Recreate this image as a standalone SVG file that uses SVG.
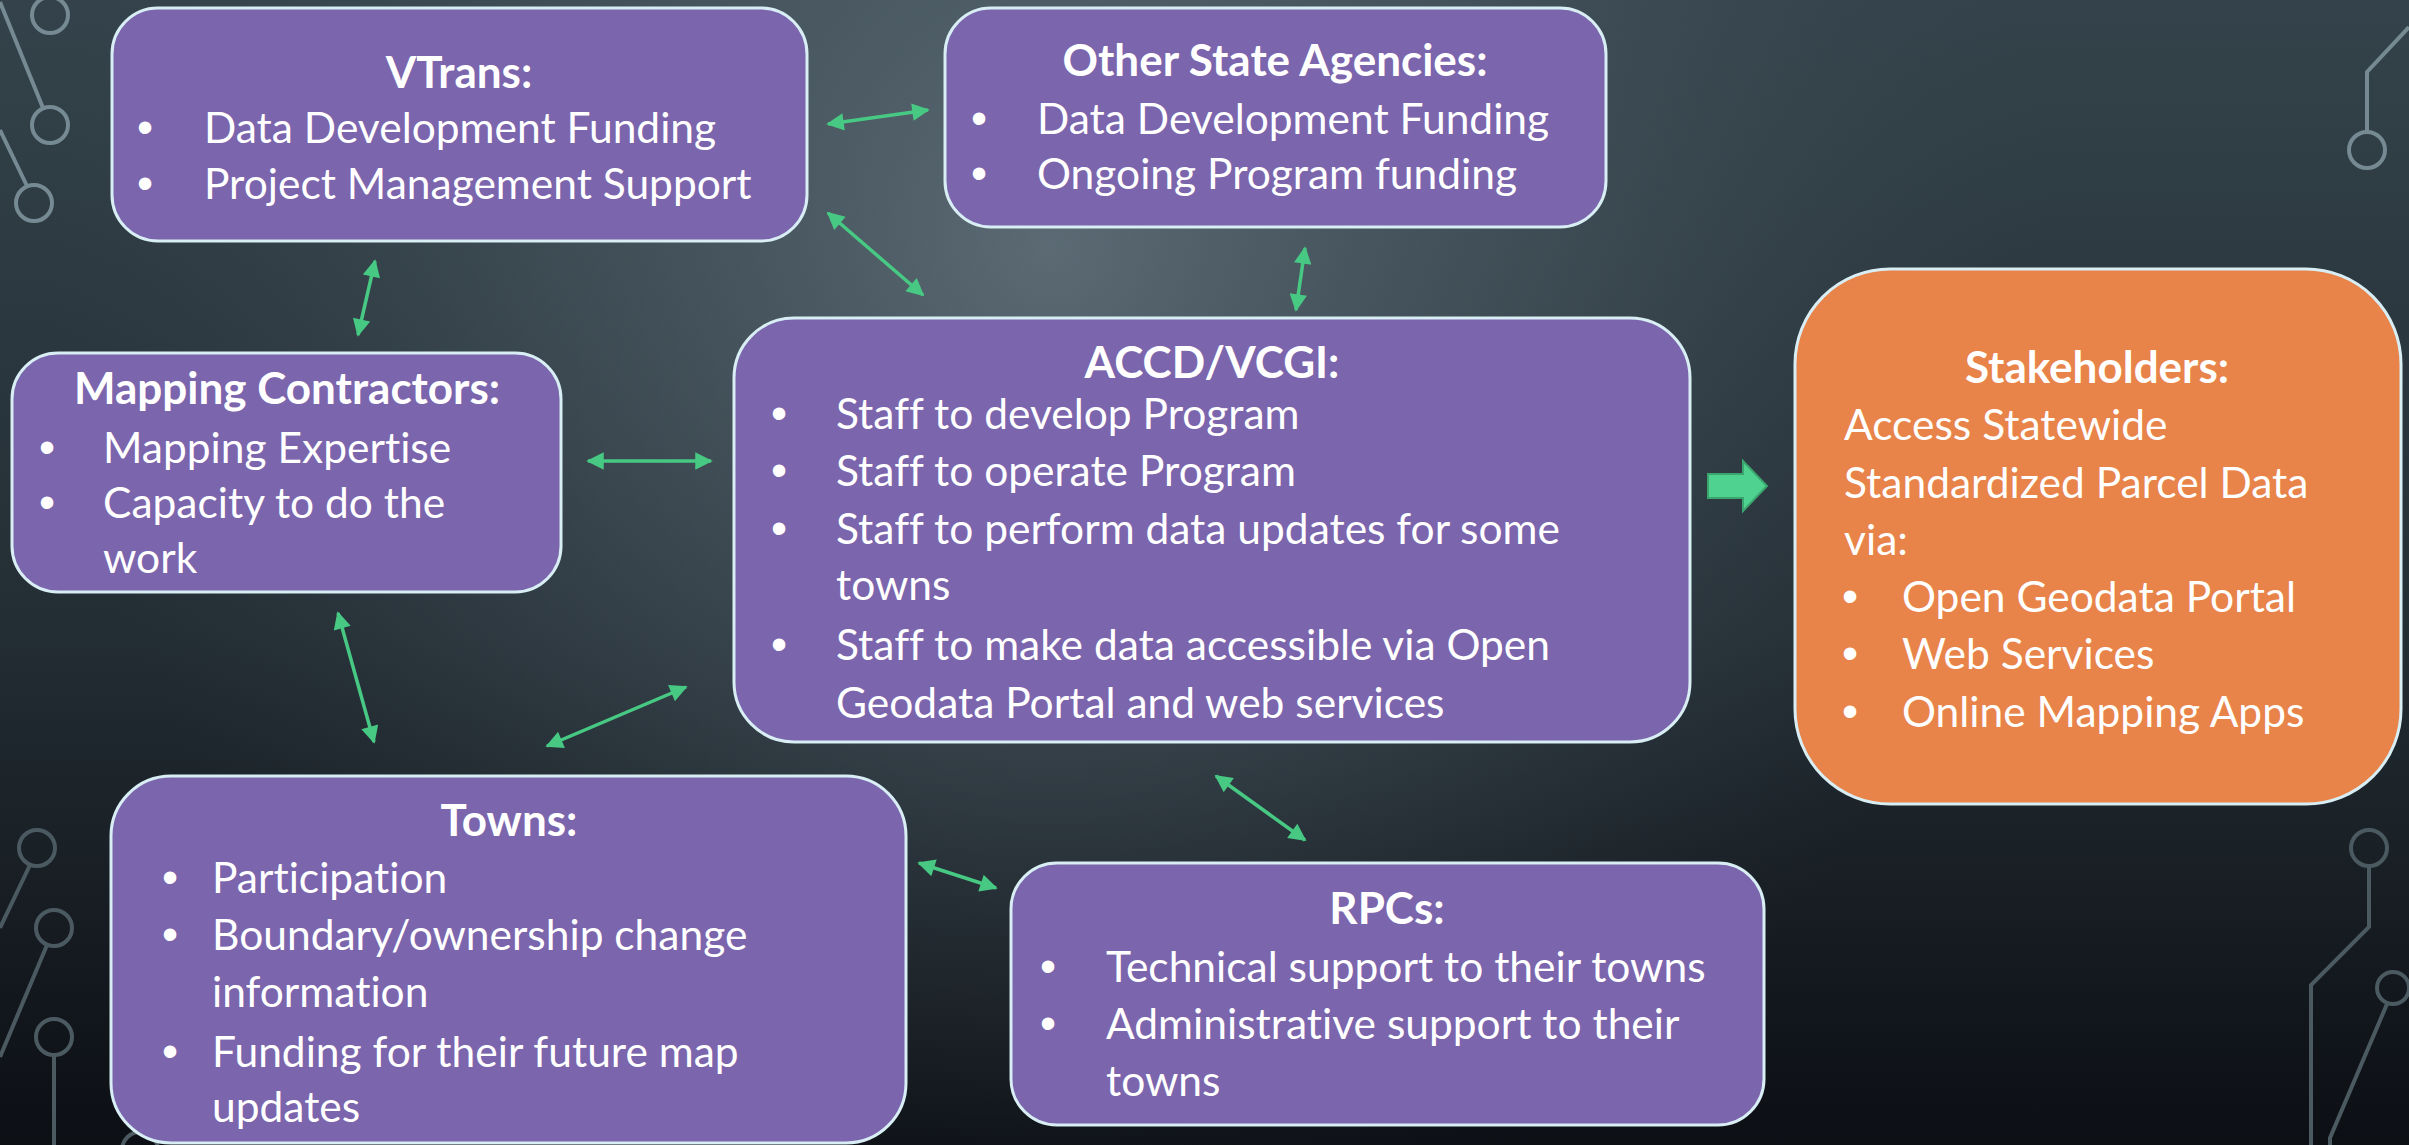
<svg xmlns="http://www.w3.org/2000/svg" width="2409" height="1145" viewBox="0 0 2409 1145">
<defs>
<linearGradient id="bg" x1="0" y1="0" x2="0" y2="1">
<stop offset="0" stop-color="#34434b"/>
<stop offset="0.55" stop-color="#232d34"/>
<stop offset="1" stop-color="#0c0f14"/>
</linearGradient>
<radialGradient id="glow" gradientUnits="userSpaceOnUse" cx="1050" cy="250" r="1000">
<stop offset="0" stop-color="#6a7a84" stop-opacity="0.75"/>
<stop offset="0.5" stop-color="#56656f" stop-opacity="0.4"/>
<stop offset="1" stop-color="#3a4750" stop-opacity="0"/>
</radialGradient>
<marker id="ah" viewBox="0 0 10 10" refX="9" refY="5" markerWidth="5.5" markerHeight="5" orient="auto-start-reverse" markerUnits="strokeWidth">
<path d="M0,0 L10,5 L0,10 z" fill="#47c984"/>
</marker>
<style>
.box{fill:#7b65ad;stroke:#d8eef4;stroke-width:3}
.obox{fill:#e8834a;stroke:#d8eef4;stroke-width:3}
.t{font-family:Lato,"Liberation Sans",sans-serif;font-size:42.5px;fill:#ffffff;font-variant-ligatures:none}
.h{font-size:44px;font-weight:bold;text-anchor:middle}
.b{font-family:"Liberation Sans",sans-serif;font-size:46px;fill:#ffffff}
.conn{stroke:#47c984;stroke-width:3.5;fill:none;marker-start:url(#ah);marker-end:url(#ah)}
</style>
</defs>
<rect width="2409" height="1145" fill="url(#bg)"/>
<rect width="2409" height="1145" fill="url(#glow)"/>
<g id="decor" fill="none" stroke-width="4">
<g stroke="#768a94">
<circle cx="50" cy="15" r="18"/>
<circle cx="50" cy="125" r="18"/>
<circle cx="34" cy="203" r="18"/>
<path d="M0,2 L43,108"/>
<path d="M0,130 L27,186"/>
<path d="M2409,27 L2367,72 L2367,132"/>
<circle cx="2367" cy="150" r="18"/>
</g>
<g stroke="#4b5a61">
<circle cx="37" cy="848" r="18"/>
<circle cx="54" cy="928" r="18"/>
<circle cx="54" cy="1037" r="18"/>
<path d="M30,865 L0,928"/>
<path d="M47,945 L0,1057"/>
<path d="M54,1055 L54,1145"/>
<circle cx="140" cy="1150" r="18"/>
<circle cx="2369" cy="848" r="18"/>
<path d="M2369,866 L2369,927 L2311,985 L2311,1145"/>
<circle cx="2393" cy="988" r="16"/>
<path d="M2387,1004 L2330,1138 L2330,1145"/>
</g>
</g>
<g id="connectors">
<line class="conn" x1="828" y1="124" x2="928" y2="110"/>
<line class="conn" x1="828" y1="213" x2="923" y2="295"/>
<line class="conn" x1="1305" y1="248" x2="1296" y2="310"/>
<line class="conn" x1="375" y1="261" x2="358" y2="335"/>
<line class="conn" x1="588" y1="461" x2="711" y2="461"/>
<line class="conn" x1="338" y1="613" x2="374" y2="742"/>
<line class="conn" x1="547" y1="746" x2="686" y2="687"/>
<line class="conn" x1="919" y1="863" x2="996" y2="888"/>
<line class="conn" x1="1216" y1="776" x2="1305" y2="840"/>
<path d="M1708,474 L1743,474 L1743,461 L1767,486 L1743,511 L1743,498 L1708,498 z" fill="#4fd18f" stroke="#3aa56e" stroke-width="2"/>
</g>
<g id="vtrans">
<rect class="box" x="112" y="8" width="695" height="233" rx="46"/>
<text class="t h" x="459" y="88">VTrans:</text>
<text class="b" x="137" y="143">•</text><text class="t" x="204" y="143">Data Development Funding</text>
<text class="b" x="137" y="199">•</text><text class="t" x="204" y="199">Project Management Support</text>
</g>
<g id="other-agencies">
<rect class="box" x="945" y="8" width="661" height="219" rx="46"/>
<text class="t h" x="1275" y="76">Other State Agencies:</text>
<text class="b" x="971" y="134">•</text><text class="t" x="1037" y="134">Data Development Funding</text>
<text class="b" x="971" y="189">•</text><text class="t" x="1037" y="189">Ongoing Program funding</text>
</g>
<g id="mapping-contractors">
<rect class="box" x="12" y="353" width="549" height="239" rx="46"/>
<text class="t h" x="287" y="404">Mapping Contractors:</text>
<text class="b" x="39" y="463">•</text><text class="t" x="103" y="463">Mapping Expertise</text>
<text class="b" x="39" y="518">•</text><text class="t" x="103" y="518">Capacity to do the</text>
<text class="t" x="103" y="573">work</text>
</g>
<g id="accd-vcgi">
<rect class="box" x="734" y="318" width="956" height="424" rx="60"/>
<text class="t h" x="1212" y="378">ACCD/VCGI:</text>
<text class="b" x="771" y="429">•</text><text class="t" x="836" y="429">Staff to develop Program</text>
<text class="b" x="771" y="486">•</text><text class="t" x="836" y="486">Staff to operate Program</text>
<text class="b" x="771" y="544">•</text><text class="t" x="836" y="544">Staff to perform data updates for some</text>
<text class="t" x="836" y="600">towns</text>
<text class="b" x="771" y="660">•</text><text class="t" x="836" y="660">Staff to make data accessible via Open</text>
<text class="t" x="836" y="718">Geodata Portal and web services</text>
</g>
<g id="stakeholders">
<rect class="obox" x="1795" y="269" width="606" height="535" rx="95"/>
<text class="t h" x="2097" y="383">Stakeholders:</text>
<text class="t" x="1844" y="440">Access Statewide</text>
<text class="t" x="1844" y="498">Standardized Parcel Data</text>
<text class="t" x="1844" y="555">via:</text>
<text class="b" x="1842" y="612">•</text><text class="t" x="1902" y="612">Open Geodata Portal</text>
<text class="b" x="1842" y="669">•</text><text class="t" x="1902" y="669">Web Services</text>
<text class="b" x="1842" y="727">•</text><text class="t" x="1902" y="727">Online Mapping Apps</text>
</g>
<g id="towns">
<rect class="box" x="111" y="776" width="795" height="367" rx="60"/>
<text class="t h" x="509" y="836">Towns:</text>
<text class="b" x="162" y="893">•</text><text class="t" x="212" y="893">Participation</text>
<text class="b" x="162" y="950">•</text><text class="t" x="212" y="950">Boundary/ownership change</text>
<text class="t" x="212" y="1007">information</text>
<text class="b" x="162" y="1067">•</text><text class="t" x="212" y="1067">Funding for their future map</text>
<text class="t" x="212" y="1122">updates</text>
</g>
<g id="rpcs">
<rect class="box" x="1011" y="863" width="753" height="262" rx="46"/>
<text class="t h" x="1387" y="924">RPCs:</text>
<text class="b" x="1040" y="982">•</text><text class="t" x="1106" y="982">Technical support to their towns</text>
<text class="b" x="1040" y="1039">•</text><text class="t" x="1106" y="1039">Administrative support to their</text>
<text class="t" x="1106" y="1096">towns</text>
</g>
</svg>
